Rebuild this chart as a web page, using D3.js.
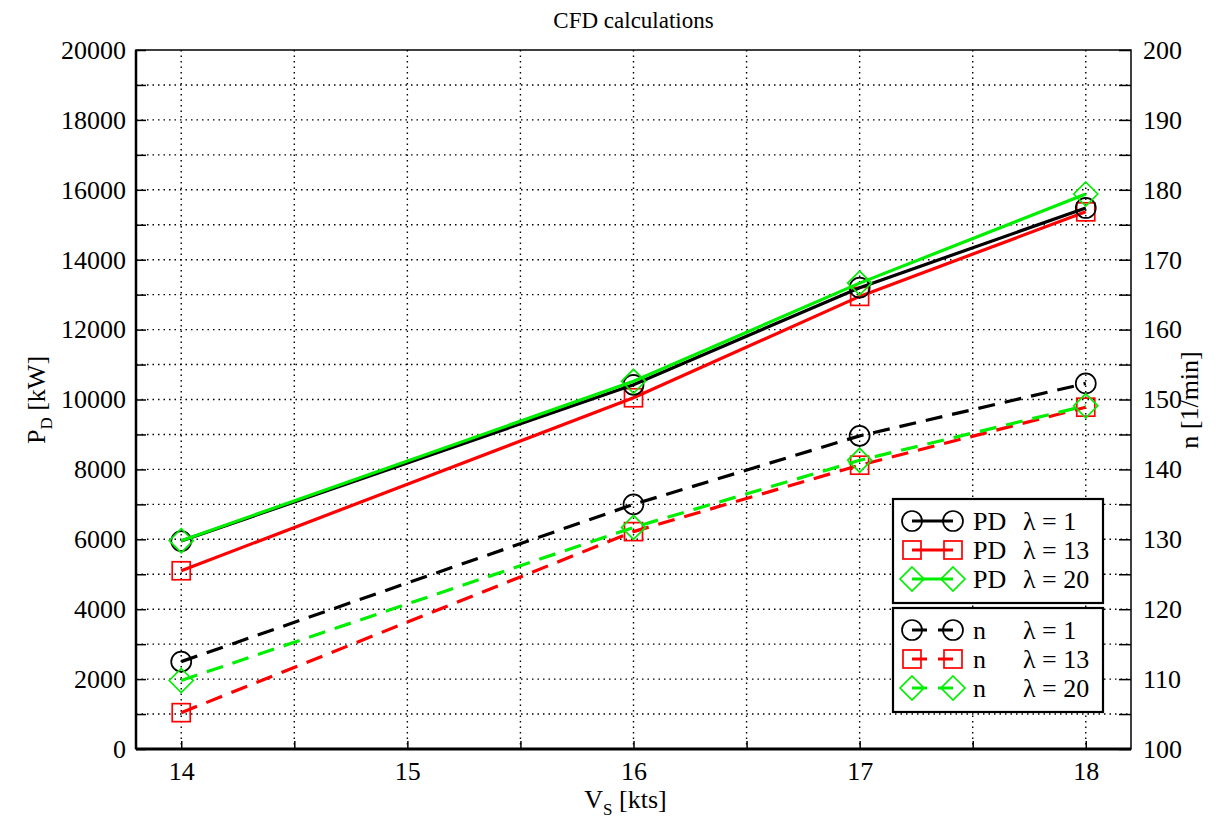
<!DOCTYPE html>
<html>
<head>
<meta charset="utf-8">
<script src="https://cdn.jsdelivr.net/npm/d3@7"></script>
<style>
  body { margin: 0; background: #fff; }
  svg text { font-family: "Liberation Serif", "DejaVu Serif", serif; fill: #000; }
</style>
</head>
<body>
<div class="svg-div"></div>
<script>
// speeds (kts)
var speeds = [14, 16, 17, 18];

// delivered power P_D [kW]
var pdL1  = [5950, 10420, 13200, 15480];
var pdL13 = [5100, 10050, 12950, 15370];
var pdL20 = [5960, 10520, 13330, 15880];

// shaft speed n [1/min]
var nL1  = [112.5, 135.0, 144.8, 152.3];
var nL13 = [105.2, 131.1, 140.6, 148.9];
var nL20 = [109.8, 131.7, 141.3, 149.1];

var xTicks = [14, 15, 16, 17, 18];
var leftTicks = d3.range(0, 20001, 2000);
var rightTicks = d3.range(100, 201, 10);

var series = [
  {name: "PD", lam: "1",  axis: "left",  vals: pdL1,  color: "#000", marker: "circle",  dash: null, width: 3.2},
  {name: "PD", lam: "13", axis: "left",  vals: pdL13, color: "#f00", marker: "square",  dash: null, width: 3.2},
  {name: "PD", lam: "20", axis: "left",  vals: pdL20, color: "#0e0", marker: "diamond", dash: null, width: 3.2},
  {name: "n",  lam: "1",  axis: "right", vals: nL1,   color: "#000", marker: "circle",  dash: "17,10", width: 3.2},
  {name: "n",  lam: "13", axis: "right", vals: nL13,  color: "#f00", marker: "square",  dash: "17,10", width: 3.2},
  {name: "n",  lam: "20", axis: "right", vals: nL20,  color: "#0e0", marker: "diamond", dash: "17,10", width: 3.2}
];

var w = 1218, h = 818;
var pLeft = 136, pRight = 1131, pTop = 50, pBottom = 749;
var serif = "'Liberation Serif', 'DejaVu Serif', serif";

var svg = d3.select(".svg-div").append("svg")
  .attr("width", w).attr("height", h);

var x = d3.scaleLinear().domain([13.8, 18.2]).range([pLeft, pRight]);
var yL = d3.scaleLinear().domain([0, 20000]).range([pBottom, pTop]);
var yR = d3.scaleLinear().domain([100, 200]).range([pBottom, pTop]);

// grid
var grid = svg.append("g").attr("stroke", "#000").attr("stroke-width", 1.4)
  .attr("stroke-dasharray", "1.5,4");
grid.selectAll(".gy").data(d3.range(1000, 20000, 1000)).enter().append("line")
  .attr("x1", pLeft).attr("x2", pRight)
  .attr("y1", function(d) { return yL(d); }).attr("y2", function(d) { return yL(d); });
grid.selectAll(".gx").data(d3.range(14, 18.01, 0.5)).enter().append("line")
  .attr("y1", pTop).attr("y2", pBottom)
  .attr("x1", function(d) { return x(d); }).attr("x2", function(d) { return x(d); });

// axes
var axL = d3.axisLeft(yL).tickValues(d3.range(0, 20001, 1000)).tickSize(-10).tickPadding(10)
  .tickFormat(function(d) { return leftTicks.indexOf(d) >= 0 ? d : ""; });
var axR = d3.axisRight(yR).tickValues(d3.range(100, 201, 5)).tickSize(-12).tickPadding(12)
  .tickFormat(function(d) { return rightTicks.indexOf(d) >= 0 ? d : ""; });
var axB = d3.axisBottom(x).tickValues(d3.range(14, 18.01, 0.5)).tickSize(-8).tickPadding(13)
  .tickFormat(function(d) { return xTicks.indexOf(d) >= 0 ? d : ""; });

function styleAxis(g) {
  g.attr("font-family", null).attr("font-size", null);
  g.select(".domain").remove();
  g.selectAll(".tick line").attr("stroke", "#000").attr("stroke-width", 1.5);
  g.selectAll(".tick text").style("font-size", "26px").style("font-family", serif)
    .attr("fill", "#000");
}
svg.append("g").attr("transform", "translate(" + pLeft + ",0)").call(axL).call(styleAxis);
svg.append("g").attr("transform", "translate(" + pRight + ",0)").call(axR).call(styleAxis);
svg.append("g").attr("transform", "translate(0," + pBottom + ")").call(axB).call(styleAxis);

// frame
svg.append("rect").attr("x", pLeft).attr("y", pTop)
  .attr("width", pRight - pLeft).attr("height", pBottom - pTop)
  .attr("fill", "none").attr("stroke", "#000").attr("stroke-width", 1.5);
svg.append("line").attr("x1", pLeft).attr("x2", pRight).attr("y1", pBottom).attr("y2", pBottom)
  .attr("stroke", "#000").attr("stroke-width", 3);
svg.append("line").attr("x1", pLeft).attr("x2", pLeft).attr("y1", pTop).attr("y2", pBottom)
  .attr("stroke", "#000").attr("stroke-width", 2.5);

function drawMarker(g, type, cx, cy, color) {
  if (type === "circle") {
    g.append("circle").attr("cx", cx).attr("cy", cy).attr("r", 10)
      .attr("fill", "none").attr("stroke", color).attr("stroke-width", 1.7);
  } else if (type === "square") {
    g.append("rect").attr("x", cx - 9).attr("y", cy - 9).attr("width", 18).attr("height", 18)
      .attr("fill", "none").attr("stroke", color).attr("stroke-width", 1.7);
  } else {
    g.append("path").attr("d", "M" + cx + "," + (cy - 12) + "L" + (cx + 12) + "," + cy +
      "L" + cx + "," + (cy + 12) + "L" + (cx - 12) + "," + cy + "Z")
      .attr("fill", "none").attr("stroke", color).attr("stroke-width", 1.7);
  }
}

// lines: draw left-axis series last so they sit on top
var order = [3, 4, 5, 1, 0, 2];
order.forEach(function(i) {
  var s = series[i];
  var yS = s.axis === "left" ? yL : yR;
  var line = d3.line().x(function(d, j) { return x(speeds[j]); }).y(function(d) { return yS(d); });
  var g = svg.append("g");
  g.append("path").datum(s.vals).attr("d", line)
    .attr("fill", "none").attr("stroke", s.color).attr("stroke-width", s.width)
    .attr("stroke-dasharray", s.dash);
  s.vals.forEach(function(v, j) { drawMarker(g, s.marker, x(speeds[j]), yS(v), s.color); });
});

// legends
function legendBox(items, bx, by, bw, bh) {
  var g = svg.append("g");
  g.append("rect").attr("x", bx).attr("y", by).attr("width", bw).attr("height", bh)
    .attr("fill", "#fff").attr("stroke", "#000").attr("stroke-width", 2.2);
  items.forEach(function(s, k) {
    var ly = by + 22 + k * 29;
    if (s.dash) {
      g.append("line").attr("x1", 912).attr("x2", 927).attr("y1", ly).attr("y2", ly)
        .attr("stroke", s.color).attr("stroke-width", 3);
      g.append("line").attr("x1", 938).attr("x2", 953).attr("y1", ly).attr("y2", ly)
        .attr("stroke", s.color).attr("stroke-width", 3);
    } else {
      g.append("line").attr("x1", 912).attr("x2", 953).attr("y1", ly).attr("y2", ly)
        .attr("stroke", s.color).attr("stroke-width", 3);
    }
    drawMarker(g, s.marker, 912, ly, s.color);
    drawMarker(g, s.marker, 953, ly, s.color);
    g.append("text").attr("x", 973).attr("y", ly + 9).style("font-size", "26px").text(s.name);
    g.append("text").attr("x", 1023).attr("y", ly + 9).style("font-size", "26px")
      .text("\u03bb = " + s.lam);
  });
}
legendBox(series.slice(0, 3), 893, 499, 210, 104);
legendBox(series.slice(3, 6), 893, 608, 210, 104);

// titles
svg.append("text").attr("x", (pLeft + pRight) / 2).attr("y", 28).attr("text-anchor", "middle")
  .style("font-size", "23px").text("CFD calculations");

var xl = svg.append("text").attr("x", (pLeft + pRight) / 2 - 8).attr("y", 808)
  .attr("text-anchor", "middle").style("font-size", "26px");
xl.append("tspan").text("V");
xl.append("tspan").attr("dy", 7).style("font-size", "17px").text("S");
xl.append("tspan").attr("dy", -7).text(" [kts]");

var yl = svg.append("text").attr("transform", "translate(45,400) rotate(-90)")
  .attr("text-anchor", "middle").style("font-size", "26px");
yl.append("tspan").text("P");
yl.append("tspan").attr("dy", 7).style("font-size", "17px").text("D");
yl.append("tspan").attr("dy", -7).text(" [kW]");

svg.append("text").attr("transform", "translate(1198,400) rotate(-90)")
  .attr("text-anchor", "middle").style("font-size", "26px").text("n [1/min]");
</script>
</body>
</html>
